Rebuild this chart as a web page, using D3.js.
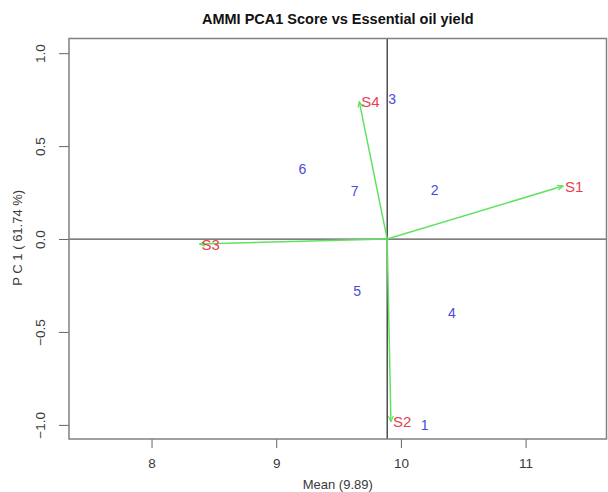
<!DOCTYPE html>
<html>
<head>
<meta charset="utf-8">
<script src="https://cdn.jsdelivr.net/npm/d3@7"></script>
<style>
  html, body { margin: 0; padding: 0; background: #fff; }
  svg { display: block; font-family: "Liberation Sans", Arial, Helvetica, sans-serif; }
</style>
</head>
<body>
<svg id="chart" width="608" height="492"></svg>
<script>
// Genotype scores (blue numbers): mean yield vs PCA1 score
const genotypes = ["1", "2", "3", "4", "5", "6", "7"];
const genoMean  = [10.19, 10.27, 9.93, 10.41, 9.65, 9.21, 9.63];
const genoPC1   = [-1.00, 0.265, 0.753, -0.40, -0.28, 0.375, 0.26];

// Environment scores (red labels, drawn as vectors from the grand mean)
const environments = ["S1", "S2", "S3", "S4"];
const envMean = [11.30, 9.92, 8.385, 9.666];
const envPC1  = [0.285, -0.983, -0.027, 0.739];

const grandMean = 9.89;
const xTicks = [8, 9, 10, 11];
const yTicks = [-1.0, -0.5, 0.0, 0.5, 1.0];

const titleText = "AMMI PCA1 Score vs Essential oil yield";
const xLabel = "Mean (9.89)";
const yLabel = "P C 1 ( 61.74 %)";

const box = { left: 69, right: 606.5, top: 38.5, bottom: 439 };

const x = d3.scaleLinear().domain([7.338, 11.649]).range([box.left, box.right]);
const y = d3.scaleLinear().domain([-1.076, 1.079]).range([box.bottom, box.top]);

const svg = d3.select("#chart");
const textColor = "#3a3a3a";
const vecColor = "#5fe35f";

// Arrowhead (open V) for the environment vectors
svg.append("defs").append("marker")
  .attr("id", "vhead")
  .attr("viewBox", "0 0 10 10")
  .attr("refX", 9).attr("refY", 5)
  .attr("markerWidth", 7).attr("markerHeight", 7)
  .attr("markerUnits", "userSpaceOnUse")
  .attr("orient", "auto")
  .append("path")
  .attr("d", "M1,1.5 L9,5 L1,8.5")
  .attr("fill", "none")
  .attr("stroke", vecColor)
  .attr("stroke-width", 1.6);

// Title
svg.append("text")
  .attr("x", (box.left + box.right) / 2)
  .attr("y", 24)
  .attr("text-anchor", "middle")
  .attr("font-weight", "bold")
  .attr("font-size", 14.5)
  .attr("fill", "#111")
  .text(titleText);

// Bottom axis
const xAxis = d3.axisBottom(x).tickValues(xTicks).tickSize(9).tickPadding(10)
  .tickFormat(d3.format("d"));
const gx = svg.append("g").attr("transform", `translate(0,${box.bottom})`).call(xAxis);
gx.select(".domain").remove();
gx.selectAll(".tick line").attr("stroke", "#666").attr("stroke-width", 1);
gx.selectAll(".tick text").attr("font-size", 13.5).attr("fill", textColor)
  .attr("font-family", "Liberation Sans, Arial, sans-serif");

// Left axis, labels parallel to the axis
const yAxis = d3.axisLeft(y).tickValues(yTicks).tickSize(10).tickFormat(d3.format(".1f"));
const gy = svg.append("g").attr("transform", `translate(${box.left},0)`).call(yAxis);
gy.select(".domain").remove();
gy.selectAll(".tick line").attr("stroke", "#666").attr("stroke-width", 1);
gy.selectAll(".tick text")
  .attr("x", null).attr("dy", null)
  .attr("transform", "translate(-29,0) rotate(-90)")
  .attr("text-anchor", "middle")
  .attr("dominant-baseline", "central")
  .attr("font-size", 13.5).attr("fill", textColor)
  .attr("font-family", "Liberation Sans, Arial, sans-serif")
  .text(d => d3.format(".1f")(d).replace("-", "\u2212"));

// Axis titles
svg.append("text")
  .attr("x", (box.left + box.right) / 2)
  .attr("y", 489)
  .attr("text-anchor", "middle")
  .attr("font-size", 13)
  .attr("fill", textColor)
  .text(xLabel);

svg.append("text")
  .attr("transform", `translate(17,${(box.top + box.bottom) / 2 - 1}) rotate(-90)`)
  .attr("text-anchor", "middle")
  .attr("dominant-baseline", "central")
  .attr("font-size", 13)
  .attr("fill", textColor)
  .text(yLabel);

// Reference lines through the grand mean and zero score
svg.append("line")
  .attr("x1", box.left).attr("x2", box.right)
  .attr("y1", y(0)).attr("y2", y(0))
  .attr("stroke", "#555").attr("stroke-width", 1.2);
svg.append("line")
  .attr("x1", x(grandMean)).attr("x2", x(grandMean))
  .attr("y1", box.top).attr("y2", box.bottom)
  .attr("stroke", "#222").attr("stroke-width", 1.2);

// Environment vectors
const envData = environments.map((name, i) => ({ name, m: envMean[i], pc: envPC1[i] }));
svg.append("g").selectAll("line").data(envData).join("line")
  .attr("x1", x(grandMean)).attr("y1", y(0))
  .attr("x2", d => x(d.m)).attr("y2", d => y(d.pc))
  .attr("stroke", vecColor).attr("stroke-width", 1.5)
  .attr("marker-end", "url(#vhead)");

svg.append("g").selectAll("text").data(envData).join("text")
  .attr("x", d => x(d.m) + 2)
  .attr("y", d => y(d.pc))
  .attr("dominant-baseline", "central")
  .attr("font-size", 15)
  .attr("fill", "#e8404f")
  .text(d => d.name);

// Genotype points as labels
const genoData = genotypes.map((name, i) => ({ name, m: genoMean[i], pc: genoPC1[i] }));
svg.append("g").selectAll("text").data(genoData).join("text")
  .attr("x", d => x(d.m))
  .attr("y", d => y(d.pc))
  .attr("text-anchor", "middle")
  .attr("dominant-baseline", "central")
  .attr("font-size", 14)
  .attr("fill", "#4a4ade")
  .text(d => d.name);

// Plot frame
svg.append("rect")
  .attr("x", box.left).attr("y", box.top)
  .attr("width", box.right - box.left).attr("height", box.bottom - box.top)
  .attr("fill", "none").attr("stroke", "#808080").attr("stroke-width", 1.5);
</script>
</body>
</html>
